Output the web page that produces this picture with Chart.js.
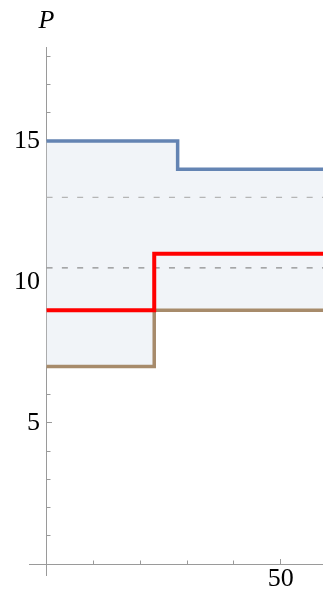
<!DOCTYPE html>
<html>
<head>
<meta charset="utf-8">
<script src="https://cdn.jsdelivr.net/npm/chart.js@4/dist/chart.umd.min.js"></script>
<style>
  html, body { margin: 0; padding: 0; background: #fff; }
  canvas { display: block; }
</style>
</head>
<body>
<canvas id="c" width="323" height="594"></canvas>
<script>
// Step functions: each value holds from its breakpoint until the next one
const upperX = [0, 28, 60];
const upperP = [15, 14, 14];
const middleX = [0, 23, 60];
const middleP = [9, 11, 11];
const lowerX = [0, 23, 60];
const lowerP = [7, 9, 9];

// Horizontal reference levels (dashed)
const refSpan = [0, 60];
const refHigh = [13, 13];
const refLow = [10.5, 10.5];

// Axis ranges and tick labels
const xRange = [-3.75, 59.05];
const yRange = [-0.39, 18.33];
const xTickLabels = [50];
const yTickLabels = [5, 10, 15];

const pts = (xs, ys) => xs.map((x, i) => ({ x: x, y: ys[i] }));

const AXIS = '#9a9a9a';
const FONT = '"Liberation Serif", "Times New Roman", serif';

// Italic axis name above the vertical axis
const axisName = {
  id: 'axisName',
  afterDraw(chart) {
    const ctx = chart.ctx;
    ctx.save();
    ctx.font = 'italic 26px ' + FONT;
    ctx.fillStyle = '#000';
    ctx.textAlign = 'center';
    ctx.textBaseline = 'alphabetic';
    ctx.fillText('P', chart.scales.x.getPixelForValue(0), 28);
    ctx.restore();
  }
};

// Tick marks pointing into the plot (negative length), no grid lines
const tickMarks = (len) => ({
  drawOnChartArea: false,
  drawTicks: true,
  tickLength: -len,
  tickColor: AXIS,
  tickWidth: 1
});

new Chart(document.getElementById('c'), {
  type: 'line',
  data: {
    datasets: [
      {
        data: pts(middleX, middleP),
        stepped: 'before',
        borderColor: '#ff0000',
        borderWidth: 4,
        pointRadius: 0,
        fill: false
      },
      {
        data: pts(lowerX, lowerP),
        stepped: 'before',
        borderColor: '#a78b6b',
        borderWidth: 3.5,
        pointRadius: 0,
        fill: false
      },
      {
        data: pts(upperX, upperP),
        stepped: 'before',
        borderColor: '#6484b3',
        backgroundColor: '#f1f4f8',
        borderWidth: 3.5,
        pointRadius: 0,
        fill: 1
      },
      {
        data: pts(refSpan, refHigh),
        borderColor: '#b5b5b5',
        borderWidth: 1.2,
        borderDash: [6, 9.3],
        pointRadius: 0,
        fill: false
      },
      {
        data: pts(refSpan, refLow),
        borderColor: '#8c8c8c',
        borderWidth: 1.2,
        borderDash: [6, 9.3],
        pointRadius: 0,
        fill: false
      }
    ]
  },
  options: {
    responsive: false,
    animation: false,
    layout: { padding: { left: 29, right: 0, top: 47, bottom: 19 } },
    plugins: {
      legend: { display: false },
      tooltip: { enabled: false },
      filler: { drawTime: 'beforeDatasetsDraw' }
    },
    scales: {
      x: {
        type: 'linear',
        min: xRange[0],
        max: xRange[1],
        position: { y: 0 },
        border: { color: AXIS, width: 1 },
        grid: tickMarks(6),
        ticks: {
          stepSize: 50,
          includeBounds: false,
          autoSkip: false,
          maxRotation: 0,
          padding: 6,
          color: '#000',
          font: { family: FONT, size: 26 },
          callback: (v) => xTickLabels.includes(v) ? String(v) : ''
        }
      },
      y: {
        type: 'linear',
        min: yRange[0],
        max: yRange[1],
        position: { x: 0 },
        border: { color: AXIS, width: 1 },
        grid: tickMarks(6),
        ticks: {
          stepSize: 5,
          includeBounds: false,
          autoSkip: false,
          padding: 0,
          color: '#000',
          font: { family: FONT, size: 26 },
          // trailing space keeps the right-aligned numbers clear of the axis
          callback: (v) => yTickLabels.includes(v) ? String(v) + ' ' : ''
        }
      },
      xMinor: {
        type: 'linear',
        axis: 'x',
        min: xRange[0],
        max: xRange[1],
        position: { y: 0 },
        border: { display: false },
        grid: tickMarks(3.5),
        ticks: { display: false, stepSize: 10, includeBounds: false, padding: 0 }
      },
      yMinor: {
        type: 'linear',
        axis: 'y',
        min: yRange[0],
        max: yRange[1],
        position: { x: 0 },
        border: { display: false },
        grid: tickMarks(3.5),
        ticks: { display: false, stepSize: 1, includeBounds: false, padding: 0 }
      }
    }
  },
  plugins: [axisName]
});
</script>
</body>
</html>
